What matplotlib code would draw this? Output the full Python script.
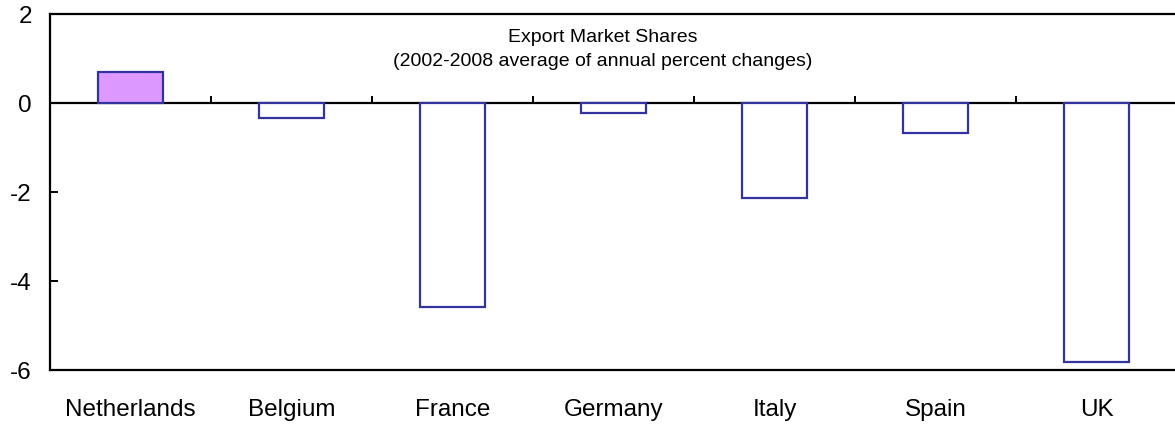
""" Export market shares bar chart """
import matplotlib
matplotlib.use('Agg')
import matplotlib.pyplot as plt

countries = ['Netherlands', 'Belgium', 'France', 'Germany', 'Italy', 'Spain', 'UK']
market_share_change = [0.70, -0.34, -4.58, -0.22, -2.13, -0.67, -5.82]
highlight = 'Netherlands'

plt.rcParams['font.family'] = ['Liberation Sans', 'DejaVu Sans']
plt.rcParams['axes.unicode_minus'] = False

W, H = 1175, 427
fig = plt.figure(figsize=(W / 100, H / 100), dpi=100)
ax = fig.add_axes([50 / W, (H - 371) / H, 1127 / W, 356 / H])

edge = '#3333a0'
fills = ['#dd99ff' if c == highlight else 'white' for c in countries]
x = range(len(countries))
ax.bar(x, market_share_change, width=0.4, color=fills, edgecolor=edge,
       linewidth=1.6, zorder=3)

# zero line with category separator ticks pointing up
ax.axhline(0, color='black', linewidth=1.6, zorder=2)
ax.vlines([i + 0.5 for i in range(len(countries) - 1)], 0, 0.16,
          color='black', linewidth=1.4, zorder=2)

ax.set_xlim(-0.5, len(countries) - 0.5)
ax.set_ylim(-6, 2)
ax.set_yticks([-6, -4, -2, 0, 2])
ax.set_xticks(list(x))
ax.set_xticklabels(countries)
ax.tick_params(axis='x', length=0, pad=20, labelsize=17.5)
ax.tick_params(axis='y', direction='in', length=6, width=1.4, pad=13, labelsize=17.5)

for side in ['left', 'top', 'bottom']:
    ax.spines[side].set_linewidth(1.6)
ax.spines['right'].set_visible(False)

fig.text(603 / W, 1 - 38 / H, 'Export Market Shares', ha='center', va='center', fontsize=14)
fig.text(603 / W, 1 - 62 / H, '(2002-2008 average of annual percent changes)',
         ha='center', va='center', fontsize=14)

fig.savefig('out.png', dpi=100)
